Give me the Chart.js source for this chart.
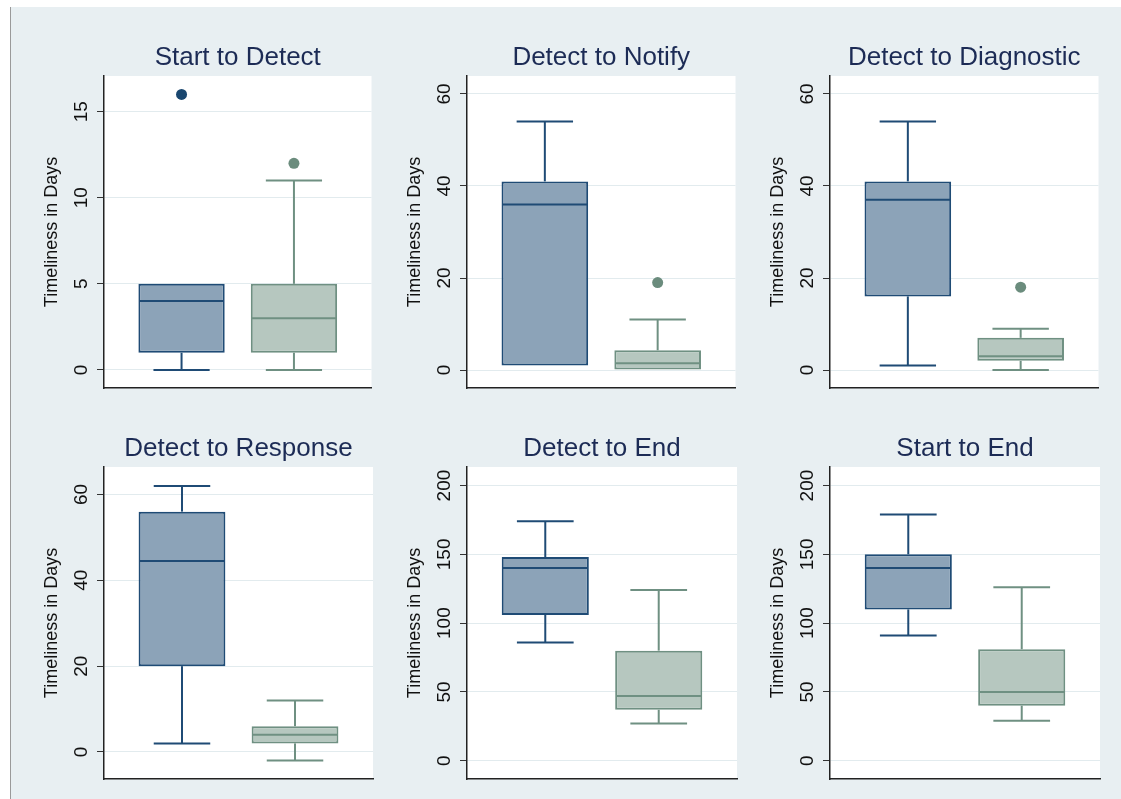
<!DOCTYPE html>
<html>
<head>
  <title>Timeliness in Days</title>
  <script src="https://cdn.jsdelivr.net/npm/chart.js"></script>
  <style>
    body { margin: 0; background: #fff; }
    #page { position: relative; width: 1121px; height: 799px; overflow: hidden; }
    #backdrop { position: absolute; left: 10px; top: 7px; right: 0; bottom: 0; background: #e8eff2; border-left: 1px solid #9a9a9a; }
    .panel { position: absolute; height: 378px; }
  </style>
</head>
<body>
  <div id="page">
    <div id="backdrop"></div>
    <div class="panel" style="left:30px;top:30px;width:347px"><canvas id="c0"></canvas></div>
    <div class="panel" style="left:393px;top:30px;width:348px"><canvas id="c1"></canvas></div>
    <div class="panel" style="left:756px;top:30px;width:348px"><canvas id="c2"></canvas></div>
    <div class="panel" style="left:30px;top:421px;width:347px"><canvas id="c3"></canvas></div>
    <div class="panel" style="left:393px;top:421px;width:348px"><canvas id="c4"></canvas></div>
    <div class="panel" style="left:756px;top:421px;width:348px"><canvas id="c5"></canvas></div>
  </div>
  <script>
    const panelTitles = ['Start to Detect', 'Detect to Notify', 'Detect to Diagnostic',
                         'Detect to Response', 'Detect to End', 'Start to End'];
    const groupNames = ['Group 1', 'Group 2'];

    // one pair per panel: [first group, second group]
    const lowerWhisker  = [[0, 0], [1, 0], [1, 0], [2, -2], [86, 27], [91, 29]];
    const lowerQuartile = [[1, 1], [1, 0], [16, 2], [20, 2], [106, 37], [110, 40]];
    const medianValue   = [[4, 3], [36, 1.5], [37, 3], [44.5, 4], [140, 47], [140, 50]];
    const upperQuartile = [[5, 5], [41, 4.3], [41, 7], [56, 6], [148, 80], [150, 81]];
    const upperWhisker  = [[5, 11], [54, 11], [54, 9], [62, 12], [174, 124], [179, 126]];
    const outlierValues = [[[16], [12]], [[], [19]], [[], [18]], [[], []], [[], []], [[], []]];

    const yTickValues = [[0, 5, 10, 15], [0, 20, 40, 60], [0, 20, 40, 60],
                         [0, 20, 40, 60], [0, 50, 100, 150, 200], [0, 50, 100, 150, 200]];
    const yAxisRange = [[-1.05, 17.07], [-3.9, 63.9], [-3.9, 63.9],
                        [-6.3, 66.4], [-13.3, 213.5], [-13.3, 213.5]];

    const fillColors = ['#8ca3b8', '#b6c7bf'];
    const lineColors = ['#1f4b75', '#6f9082'];
    const dotColors = ['#1a476f', '#6b8c7d'];

    Chart.defaults.font.family = '"Liberation Sans", Arial, Helvetica, sans-serif';

    // white plot region, whiskers, caps and medians
    const boxParts = {
      id: 'boxParts',
      beforeDraw(chart) {
        const {ctx, chartArea: a} = chart;
        ctx.save();
        ctx.fillStyle = '#ffffff';
        ctx.fillRect(a.left, a.top, a.width, a.height);
        ctx.restore();
      },
      afterDatasetsDraw(chart, args, opts) {
        const p = opts.panel;
        const {ctx, scales: {x, y}} = chart;
        const bars = chart.getDatasetMeta(0).data;
        const seg = (x1, y1, x2, y2) => {
          ctx.beginPath(); ctx.moveTo(x1, y1); ctx.lineTo(x2, y2); ctx.stroke();
        };
        ctx.save();
        ctx.lineWidth = 2;
        bars.forEach((bar, g) => {
          const cx = x.getPixelForValue(g);
          const cap = x.getPixelForValue(g + 0.25) - cx;
          const yLo = y.getPixelForValue(lowerWhisker[p][g]);
          const yQ1 = y.getPixelForValue(lowerQuartile[p][g]);
          const yMed = y.getPixelForValue(medianValue[p][g]);
          const yQ3 = y.getPixelForValue(upperQuartile[p][g]);
          const yUp = y.getPixelForValue(upperWhisker[p][g]);
          ctx.strokeStyle = lineColors[g];
          if (yUp < yQ3) { seg(cx, yQ3, cx, yUp); seg(cx - cap, yUp, cx + cap, yUp); }
          if (yLo > yQ1) { seg(cx, yQ1, cx, yLo); seg(cx - cap, yLo, cx + cap, yLo); }
          const half = bar.width / 2;
          seg(cx - half + 1, yMed, cx + half - 1, yMed);
        });
        ctx.restore();
      }
    };

    panelTitles.forEach((title, p) => {
      const tickSize = 19;
      const digits = String(Math.max(...yTickValues[p])).length;
      const tickPad = 22 - 7 - digits * 0.556 * tickSize / 2;

      new Chart(document.getElementById('c' + p), {
        type: 'bar',
        data: {
          datasets: [
            {
              type: 'bar',
              data: groupNames.map((g, j) => ({x: j, y: [lowerQuartile[p][j], upperQuartile[p][j]]})),
              backgroundColor: fillColors,
              borderColor: lineColors,
              borderWidth: 2,
              borderSkipped: false,
              barPercentage: 0.96,
              categoryPercentage: 0.8
            },
            ...groupNames.map((g, j) => ({
              type: 'scatter',
              data: outlierValues[p][j].map(v => ({x: j, y: v})),
              pointRadius: 5.5,
              pointBackgroundColor: dotColors[j],
              pointBorderWidth: 0
            }))
          ]
        },
        options: {
          responsive: true,
          maintainAspectRatio: false,
          animation: false,
          events: [],
          layout: { padding: { left: 0, right: 4, top: 0, bottom: 20 } },
          plugins: {
            legend: { display: false },
            tooltip: { enabled: false },
            title: {
              display: true,
              text: title,
              fullSize: false,
              color: '#1c2b55',
              font: { size: 26, weight: 'normal' },
              padding: { top: 11.8, bottom: 3 }
            },
            boxParts: { panel: p }
          },
          scales: {
            x: {
              type: 'linear',
              offset: false,
              min: -0.69,
              max: 1.69,
              afterBuildTicks: s => { s.ticks = groupNames.map((g, j) => ({value: j})); },
              ticks: { display: false },
              grid: { display: false, drawTicks: false, offset: false },
              border: { display: true, color: '#222', width: 1.5 }
            },
            y: {
              min: yAxisRange[p][0],
              max: yAxisRange[p][1],
              afterBuildTicks: s => { s.ticks = yTickValues[p].map(v => ({value: v})); },
              afterFit: s => { s.width = 74; },
              ticks: {
                minRotation: 90,
                maxRotation: 90,
                crossAlign: 'center',
                padding: tickPad,
                color: '#111',
                font: { size: tickSize }
              },
              grid: { color: '#e2ebee', lineWidth: 1, tickColor: '#333', tickLength: 7 },
              border: { display: true, color: '#222', width: 1.5 },
              title: {
                display: true,
                text: 'Timeliness in Days',
                color: '#111',
                font: { size: 18 },
                padding: { top: 11, bottom: 0 }
              }
            }
          }
        },
        plugins: [boxParts]
      });
    });
  </script>
</body>
</html>
